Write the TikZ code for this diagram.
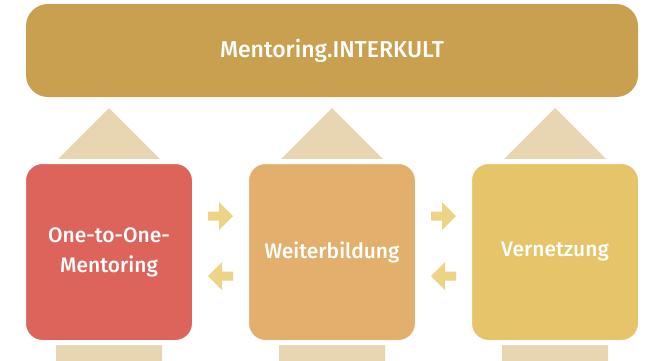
\documentclass[tikz,border=0pt]{standalone}
\usepackage{fontspec}
\setmainfont{Fira Sans Medium}
\usetikzlibrary{calc}
\definecolor{banner}{HTML}{C9A04F}
\definecolor{cone}{HTML}{DC645B}
\definecolor{ctwo}{HTML}{E2B06C}
\definecolor{cthree}{HTML}{E5C46A}
\definecolor{bigarr}{HTML}{E8D6B3}
\definecolor{smallarr}{HTML}{EDD386}
\tikzset{
  bannerbox/.style={fill=banner, rounded corners=22pt, minimum width=612pt, minimum height=93pt, inner sep=0pt, text=white, font=\fontsize{23}{28}\selectfont},
  mainbox/.style={draw=white, line width=5pt, rounded corners=19pt, minimum width=171pt, minimum height=181pt, inner sep=0pt, text=white, align=center, font=\fontsize{21}{30}\selectfont},
  bigarrow/.style={fill=bigarr},
  smallarrow/.style={fill=smallarr},
}
\begin{document}
\begin{tikzpicture}[x=1pt,y=-1pt]
\useasboundingbox (0,0) rectangle (645,360);
% big up arrows behind boxes
\foreach \cx in {109,332,555}{
  \fill[bigarrow] (\cx-53,361) -- (\cx-53,161) -- (\cx,108) -- (\cx+53,161) -- (\cx+53,361) -- cycle;
}
\node[bannerbox] (top) at (332,50.5) {Mentoring.INTERKULT};
\node[mainbox, fill=cone] (b1) at (109,252) {One-to-One-\\Mentoring};
\node[mainbox, fill=ctwo] (b2) at (332,252) {Weiterbildung};
\node[mainbox, fill=cthree] (b3) at (555,252) {Vernetzung};
\coordinate (m12) at ($(b1.east)!.5!(b2.west)$);
\coordinate (m23) at ($(b2.east)!.5!(b3.west)$);
\foreach \m in {m12,m23}{
  \begin{scope}[shift={(\m)}]
    \fill[smallarrow] (-12.5,-40.5) -- (-1.5,-40.5) -- (-1.5,-50) -- (12.5,-36) -- (-1.5,-22) -- (-1.5,-31.5) -- (-12.5,-31.5) -- cycle;
    \fill[smallarrow] (12.5,19.5) -- (1.5,19.5) -- (1.5,10) -- (-12.5,24) -- (1.5,38) -- (1.5,28.5) -- (12.5,28.5) -- cycle;
  \end{scope}
}
\end{tikzpicture}
\end{document}
